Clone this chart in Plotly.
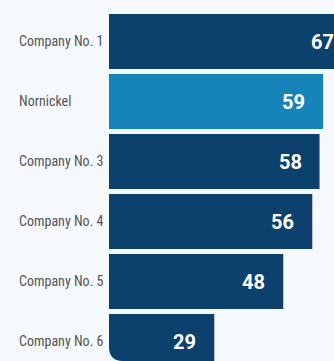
import plotly.graph_objects as go

companies = ["Company No. 1", "Nornickel", "Company No. 3", "Company No. 4", "Company No. 5", "Company No. 6"]
values = [67, 59, 58, 56, 48, 29]
highlight = "Nornickel"

DARK = "#0D416D"
LIGHT = "#1684B8"
BG = "#F5F9FE"

X_MAX = 225 / 3.63  # visible part of the value axis (the chart is cropped on the right)
colors = [LIGHT if c == highlight else DARK for c in companies]

fig = go.Figure()
fig.add_trace(go.Bar(
    x=values, y=companies, orientation="h",
    marker=dict(color=colors, line=dict(width=0)),
    hoverinfo="skip",
))

for c, v in zip(companies, values):
    # value labels: placed through the x scale (domain units so that the cropped bar keeps its label)
    fig.add_annotation(
        x=v / X_MAX, y=c, xref="x domain", yref="y", text=str(v), showarrow=False,
        xanchor="right", yanchor="middle", xshift=-16,
        font=dict(family="Roboto", size=20, color="white", weight="bold"),
    )
    # category labels, left aligned
    fig.add_annotation(
        x=-92 / 225, y=c, xref="paper", yref="y", text=c, showarrow=False,
        xanchor="left", yanchor="middle", yshift=1,
        font=dict(family="Roboto Condensed", size=14, color="#555555"),
    )

# rounded bottom-left corner of the card
fig.add_shape(
    type="path", xref="paper", yref="paper",
    path="M 0 0 L 0 0.04 Q 0 0 0.06 0 Z",
    fillcolor=BG, line=dict(width=0), layer="above",
)

fig.update_layout(
    width=334, height=361,
    margin=dict(l=109, r=0, t=0, b=0),
    paper_bgcolor=BG, plot_bgcolor=BG,
    bargap=5 / 60,
    showlegend=False,
    xaxis=dict(range=[0, X_MAX], visible=False, fixedrange=True),
    yaxis=dict(
        type="category", categoryorder="array", categoryarray=companies,
        range=[5.325, -0.6917], showgrid=False, zeroline=False,
        showticklabels=False, ticks="",
    ),
)

fig.write_html("out.html")
